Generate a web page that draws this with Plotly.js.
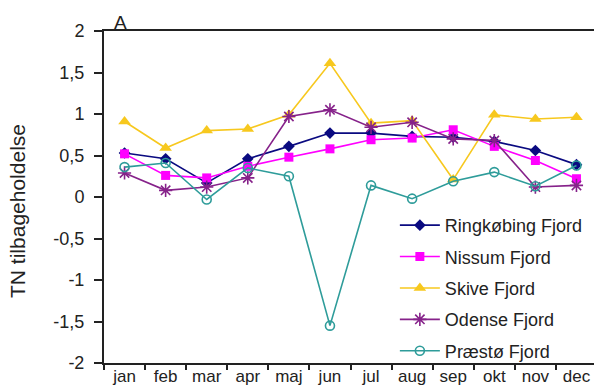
<!DOCTYPE html>
<html><head><meta charset="utf-8">
<script src="https://cdn.plot.ly/plotly-3.0.1.min.js"></script>
<style>html,body{margin:0;padding:0;background:#fff;overflow:hidden}#c{width:598px;height:389px}</style>
</head><body><div id="c"></div>
<script>
const months = ["jan","feb","mar","apr","maj","jun","jul","aug","sep","okt","nov","dec"];
const ringkobing = [0.53,0.46,0.17,0.46,0.61,0.77,0.77,0.73,0.72,0.67,0.56,0.39];
const nissum     = [0.52,0.26,0.23,0.37,0.48,0.58,0.69,0.71,0.81,0.61,0.44,0.22];
const skive      = [0.91,0.59,0.80,0.82,0.99,1.61,0.89,0.92,0.21,0.99,0.94,0.96];
const odense     = [0.29,0.08,0.12,0.23,0.97,1.05,0.84,0.90,0.70,0.68,0.12,0.14];
const praesto    = [0.36,0.41,-0.03,0.35,0.25,-1.55,0.14,-0.02,0.19,0.30,0.13,0.38];
const yTickVals = [2,1.5,1,0.5,0,-0.5,-1,-1.5,-2];
const yTickText = ["2","1,5","1","0,5","0","-0,5","-1","-1,5","-2"];
const names = ["Ringkøbing Fjord","Nissum Fjord","Skive Fjord","Odense Fjord","Præstø Fjord"];

const series = [ringkobing,nissum,skive,odense,praesto];
const colors = ["#0a0a80","#ff00ff","#f7c81e","#86228a","#2e9c9a"];
const symbols = ["diamond","square","triangle-up","asterisk-open","circle-open"];
const sizes = [9,9,11,11,9];

const traces = series.map((s,i)=>({
  x: months, y: s, name: names[i], type:"scatter", mode:"lines+markers",
  legendgroup: "g"+i,
  line:{color:colors[i], width:1.6},
  marker:{symbol:symbols[i], size:sizes[i], color:colors[i],
          line:{color:colors[i], width: (i>=3?1.6:0)}}
}));

const layout = {
  width:598, height:389,
  margin:{l:104, r:1, t:31, b:26},
  paper_bgcolor:"#fff", plot_bgcolor:"#fff",
  font:{family:"Liberation Sans, Arial, sans-serif", color:"#222", size:18},
  showlegend:true,
  legend:{x:0.59, y:0.47, xanchor:"left", yanchor:"top", bgcolor:"rgba(0,0,0,0)",
          font:{size:18, color:"#222"}, tracegroupgap:5, itemwidth:40},
  xaxis:{type:"category", tickson:"boundaries", ticks:"outside", ticklen:5, tickwidth:2,
         tickcolor:"#222", showline:true, linecolor:"#222", linewidth:2, mirror:true,
         showgrid:false, zeroline:false, range:[-0.5,11.5], tickfont:{size:17},
         ticklabelstandoff:-3, fixedrange:true},
  yaxis:{range:[-2,2], tickvals:yTickVals, ticktext:yTickText, ticks:"outside", ticklen:8,
         tickwidth:2, tickcolor:"#222", showline:true, linecolor:"#222", linewidth:2, mirror:true,
         showgrid:false, zeroline:false, tickfont:{size:18}, ticklabelstandoff:6},
  annotations:[
    {text:"A", xref:"paper", yref:"paper", x:0.016, y:1, xanchor:"left", yanchor:"bottom",
     showarrow:false, font:{size:19, color:"#222"}, yshift:-4},
    {text:"TN tilbageholdelse", xref:"paper", yref:"paper", x:-0.1744, y:0.458,
     xanchor:"center", yanchor:"middle", textangle:-90, showarrow:false,
     font:{size:21, color:"#222"}}
  ]
};
Plotly.newPlot("c", traces, layout, {displayModeBar:false, staticPlot:true});
</script></body></html>
